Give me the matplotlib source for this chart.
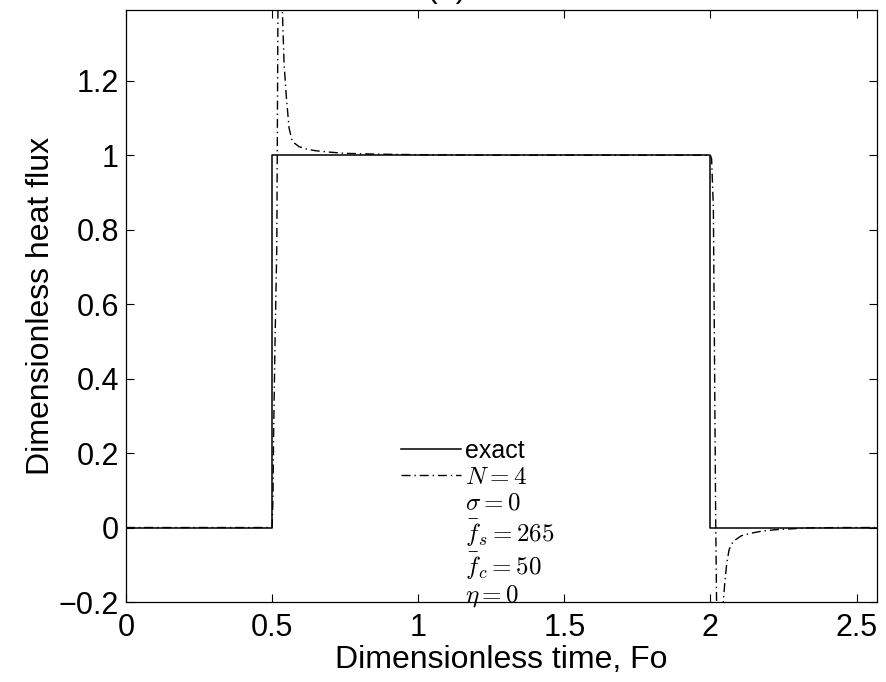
import matplotlib
matplotlib.use('Agg')
import matplotlib.pyplot as plt
from matplotlib.lines import Line2D

# ============================================================================
# DATA
# ============================================================================
# exact boxcar heat flux
t_exact = [0.0, 0.5, 0.5, 2.0, 2.0, 2.57]
q_exact = [0.0, 0.0, 1.0, 1.0, 0.0, 0.0]

# estimate, N = 4 (dash-dot)
t_est = [0.0, 0.500, 0.503, 0.505, 0.510, 0.516, 0.520, 0.524, 0.528, 0.532,
         0.535, 0.541, 0.549, 0.558, 0.569, 0.592, 0.620, 0.649, 0.700, 0.751,
         0.850, 1.034, 1.300, 1.700, 2.000, 2.004, 2.010, 2.014, 2.018, 2.021,
         2.026, 2.032, 2.038, 2.044, 2.050, 2.056, 2.064, 2.078, 2.106, 2.140,
         2.174, 2.220, 2.265, 2.333, 2.450, 2.570]
q_est = [0.0, 0.0, 0.08, 0.24, 0.50, 0.75, 1.39, 1.65, 1.70, 1.55,
         1.39, 1.245, 1.154, 1.073, 1.037, 1.023, 1.016, 1.012, 1.008, 1.005,
         1.003, 1.001, 1.0, 1.0, 1.0, 0.99, 0.86, 0.45, 0.02, -0.20,
         -0.42, -0.48, -0.38, -0.20, -0.14, -0.095, -0.059, -0.037, -0.022, -0.015,
         -0.010, -0.006, -0.004, -0.001, 0.0, 0.0]

x_ticks = [0, 0.5, 1, 1.5, 2, 2.5]
x_tick_labels = ['0', '0.5', '1', '1.5', '2', '2.5']
y_ticks = [-0.2, 0, 0.2, 0.4, 0.6, 0.8, 1.0, 1.2]
y_tick_labels = ['\u22120.2', '0', '0.2', '0.4', '0.6', '0.8', '1', '1.2']

legend_labels = ['exact', r'$N = 4$', r'$\sigma = 0$', r'$\bar{f}_s = 265$',
                 r'$\bar{f}_c = 50$', r'$\eta = 0$']

# ============================================================================
# PLOT
# ============================================================================
plt.rcParams['font.family'] = ['Liberation Sans', 'DejaVu Sans']
plt.rcParams['mathtext.fontset'] = 'cm'

fig = plt.figure(figsize=(8.86, 6.82), dpi=100)
ax = fig.add_axes([126 / 886, 1 - 602 / 682, 751 / 886, 592 / 682])

DASHDOT = (0, (6.5, 2.8, 1.0, 2.8))
ax.plot(t_exact, q_exact, color='black', linewidth=1.1, label=legend_labels[0])
ax.plot(t_est, q_est, color='black', linewidth=1.0, linestyle=DASHDOT, label=legend_labels[1])

ax.set_xlim(0, 2.57)
ax.set_ylim(-0.2, 1.39)
ax.set_xticks(x_ticks)
ax.set_xticklabels(x_tick_labels)
ax.set_yticks(y_ticks)
ax.set_yticklabels(y_tick_labels)
ax.tick_params(direction='in', top=True, right=True, length=6, width=0.8,
               labelsize=22)
ax.tick_params(axis='x', pad=8)
ax.tick_params(axis='y', pad=5)
for spine in ax.spines.values():
    spine.set_linewidth(0.9)

ax.set_xlabel('Dimensionless time, Fo', fontsize=23)
ax.xaxis.set_label_coords(0.5, -0.073)
ax.set_ylabel('Dimensionless heat flux', fontsize=23, labelpad=2)

# legend: two real entries plus parameter lines without handles
handles, labels = ax.get_legend_handles_labels()
for lab in legend_labels[2:]:
    handles.append(Line2D([], [], linestyle='none'))
    labels.append(lab)
ax.legend(handles, labels, loc='upper left', bbox_to_anchor=(401 / 886, 1 - 439 / 682),
          bbox_transform=fig.transFigure, frameon=False, fontsize=18,
          handlelength=2.4, handletextpad=0.15, labelspacing=0.08, borderpad=0,
          borderaxespad=0)

fig.text(447 / 886, 1 - 4 / 682, '(a)', ha='center', va='bottom', fontsize=23)

fig.savefig('out.png', dpi=100)
